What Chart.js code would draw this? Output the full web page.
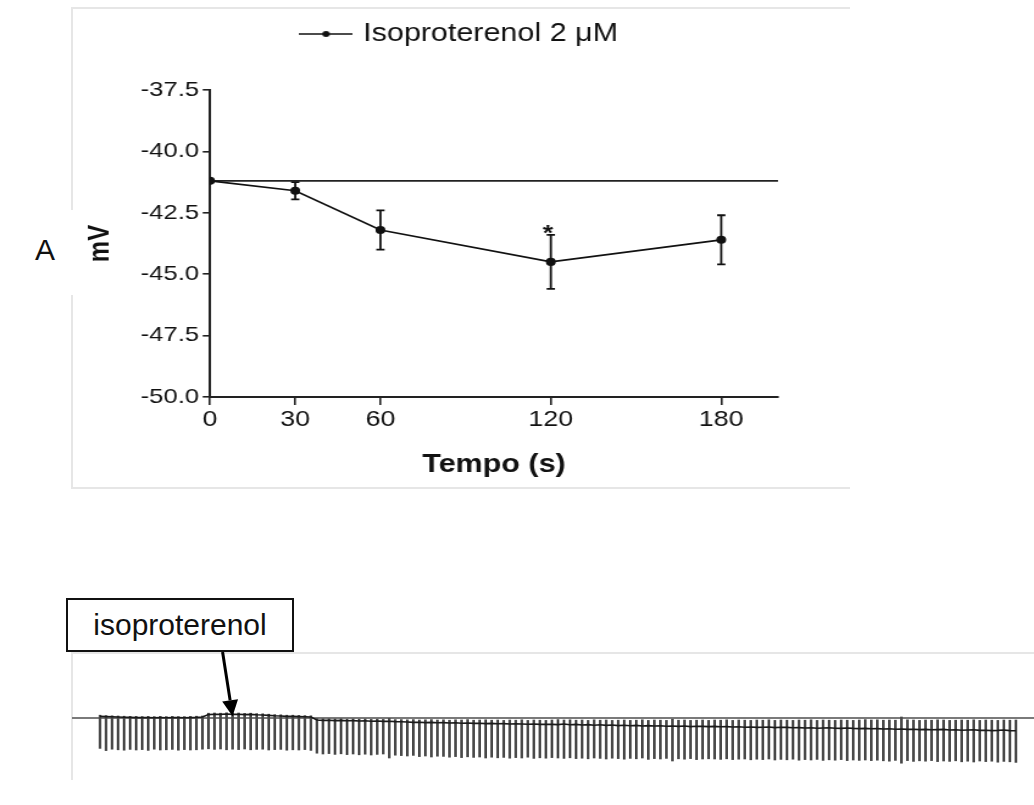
<!DOCTYPE html>
<html><head><meta charset="utf-8">
<script src="https://cdn.jsdelivr.net/npm/chart.js@4.4.1/dist/chart.umd.min.js"></script>
<style>
html,body{margin:0;padding:0;background:#fff;width:1034px;height:805px;overflow:hidden;font-family:"Liberation Sans",Arial,sans-serif;}
.abs{position:absolute;}
#topWrap{left:72px;top:8px;width:638px;height:480px;transform:scaleX(1.2194);transform-origin:0 0;}
#botWrap{left:72px;top:652px;width:962px;height:126px;}
.hl{height:2px;background:#e6e6e6;}
.vl{width:2px;background:#e6e6e6;}
#panelA{left:35px;top:233px;font-size:30px;color:#111;line-height:34px;}
#drugBox{left:66px;top:598px;width:224px;height:50px;border:2px solid #111;background:#fff;font-size:30px;line-height:50px;text-align:center;color:#111;}
</style></head><body>
<div class="abs hl" style="left:72px;top:7px;width:778px"></div>
<div class="abs hl" style="left:72px;top:487px;width:778px"></div>
<div class="abs vl" style="left:71px;top:7px;height:203px"></div>
<div class="abs vl" style="left:71px;top:295px;height:194px"></div>
<div class="abs" id="panelA">A</div>
<div class="abs" id="topWrap"><canvas id="topChart"></canvas></div>
<div class="abs hl" style="left:72px;top:652px;width:962px"></div>
<div class="abs vl" style="left:71px;top:652px;height:128px"></div>
<div class="abs" id="botWrap"><canvas id="traceChart"></canvas></div>
<div class="abs" id="drugBox">isoproterenol</div>
<script>
const FONT = '"Liberation Sans", Arial, sans-serif';

// ---- Panel A: mean membrane potential ----
const timePoints = [0, 30, 60, 120, 180];
const meanMv = [-41.2, -41.6, -43.2, -44.5, -43.6];
const semMv = [0, 0.35, 0.8, 1.1, 1.0];
const significance = ['', '', '', '*', ''];
const baselineMv = -41.2;
const yTicksMv = [-50, -47.5, -45, -42.5, -40, -37.5];
const xRangeS = [0, 200];
const seriesLabel = 'Isoproterenol 2 \u03bcM';

// ---- Trace: one entry per beat ----
const tracePeaks = [
 -31.6,-31.8,-31.9,-32.0,-32.1,-32.2,-32.2,-32.3,-32.2,-32.3,-32.2,-32.3,-32.2,-32.3,-32.3,-32.2,-32.1,-32.0,
 -30.6,-30.5,-30.6,-30.4,-30.6,-30.5,-30.7,-30.6,-30.8,-30.9,-31.1,-31.3,-31.4,-31.6,-31.6,-31.7,-31.8,-31.9,
 -33.3,-33.4,-33.4,-33.5,-33.4,-33.6,-33.5,-33.6,-33.5,-33.7,-33.6,-33.7,-33.2,-33.8,
 -33.8,-33.9,-33.8,-34.0,-33.9,-33.8,-34.0,-33.9,-34.1,-33.9,-34.0,-33.8,-34.1,-34.0,-33.9,-34.1,-34.0,-34.2,-34.0,-34.1,-33.9,-34.2,-34.0,-34.1,-34.2,-34.0,
 -33.8,-34.0,-33.9,-34.1,-34.0,-34.2,-33.9,-34.1,-34.0,-34.2,-34.1,-34.0,-34.2,-34.1,-33.9,-34.2,-34.0,-34.1,-34.2,-33.6,-34.1,-34.0,-34.2,-34.1,-34.0,-34.2,
 -34.0,-34.1,-33.9,-34.2,-34.0,-34.1,-34.2,-34.0,-34.1,-33.9,-34.2,-34.0,-34.1,-34.2,-34.0,-34.1,-33.9,-34.2,-34.0,-34.1,-34.2,-34.0,-34.1,-34.2,-34.0,
 -33.8,-34.0,-33.9,-34.1,-34.0,-34.1,-32.5,-33.9,-34.0,-34.2,-34.0,-34.1,-33.9,-34.0,-34.2,-34.1,-34.0,-34.1,-33.9,-34.2,-34.0,-34.1,-34.2,-34.0,-34.1,-34.0
];
const tracePlateau = [
 -32.2,-32.3,-32.4,-32.5,-32.6,-32.7,-32.8,-32.8,-32.8,-32.9,-32.8,-32.9,-32.8,-32.8,-32.9,-32.8,-32.7,-32.5,
 -31.3,-31.1,-31.2,-31.0,-31.2,-31.1,-31.3,-31.2,-31.4,-31.5,-31.7,-31.9,-32.0,-32.2,-32.2,-32.3,-32.4,-32.5,
 -34.0,-34.2,-34.1,-34.3,-34.2,-34.4,-34.3,-34.5,-34.4,-34.6,-34.5,-34.7,-34.6,-34.8,
 -34.9,-35.0,-35.2,-35.1,-35.3,-35.2,-35.4,-35.3,-35.5,-35.4,-35.6,-35.5,-35.7,-35.6,-35.8,-35.7,-35.9,-35.8,-36.0,-35.9,-36.0,-36.1,-36.0,-36.2,-36.1,-36.2,
 -36.3,-36.0,-36.4,-36.2,-36.5,-36.3,-36.6,-36.4,-36.7,-36.5,-36.8,-36.6,-36.9,-36.7,-37.0,-36.8,-37.0,-36.9,-37.1,-37.0,-37.2,-37.0,-37.3,-37.1,-37.2,-37.3,
 -37.2,-37.4,-37.3,-37.5,-37.4,-37.6,-37.5,-37.7,-37.6,-37.5,-37.8,-37.6,-37.7,-37.9,-37.8,-38.0,-37.9,-38.1,-38.0,-37.9,-38.1,-38.2,-38.0,-38.2,-38.3,
 -38.2,-38.4,-38.3,-38.5,-38.4,-38.6,-38.5,-38.7,-38.6,-38.8,-38.7,-38.9,-38.8,-38.7,-39.0,-38.9,-39.1,-39.0,-38.9,-39.2,-39.1,-39.3,-39.2,-39.0,-39.3,-39.4
];
const traceTroughs = [
 -48.2,-49.3,-48.6,-48.9,-49.1,-48.7,-49.0,-48.8,-49.2,-48.6,-49.0,-48.9,-48.7,-49.1,-48.8,-49.0,-48.9,-48.6,
 -48.4,-48.7,-48.5,-48.9,-48.6,-48.8,-48.5,-48.9,-48.7,-48.6,-49.0,-48.8,-48.7,-49.1,-48.9,-49.0,-48.8,-49.2,
 -50.6,-51.0,-50.8,-51.2,-50.9,-51.3,-51.0,-51.4,-51.1,-51.5,-51.2,-51.0,-53.0,-51.6,
 -51.8,-52.0,-51.7,-52.3,-52.0,-52.5,-52.1,-52.2,-52.6,-52.3,-52.8,-52.4,-52.7,-52.5,-53.0,-52.6,-52.9,-52.7,-53.1,-52.8,-53.0,-52.6,-53.2,-52.9,-53.1,-52.8,
 -53.0,-53.2,-52.9,-53.3,-53.1,-53.4,-53.0,-53.2,-53.5,-53.1,-53.3,-53.6,-53.2,-53.4,-53.0,-53.7,-53.3,-53.5,-53.2,-54.5,-53.4,-53.6,-53.3,-53.8,-53.5,-53.4,
 -53.5,-53.7,-53.4,-53.8,-53.6,-53.5,-53.9,-53.6,-53.8,-53.5,-54.0,-53.7,-53.9,-53.6,-54.1,-53.8,-54.0,-53.7,-54.2,-53.9,-54.1,-53.8,-54.3,-54.0,-54.2,
 -54.0,-54.3,-54.1,-54.4,-54.6,-54.2,-55.6,-54.3,-54.7,-54.4,-54.6,-54.3,-54.8,-54.5,-54.7,-54.4,-54.9,-54.6,-55.0,-54.5,-54.8,-54.6,-55.1,-54.7,-54.9,-55.2
];
const traceBaseline = -33;
const traceXRange = [-4.65, 155];
const traceYRange = [-63, 0];
const drugBeat = 22;

// ---------- Panel A chart ----------
function legendSymbol(){
  const c = document.createElement('canvas'); c.width = 44; c.height = 10;
  const g = c.getContext('2d');
  g.strokeStyle = '#111'; g.lineWidth = 1.6;
  g.beginPath(); g.moveTo(0,5); g.lineTo(44,5); g.stroke();
  g.fillStyle = '#111'; g.beginPath(); g.arc(22,5,3,0,Math.PI*2); g.fill();
  return c;
}
const errorBarPlugin = {
  id:'errorBars',
  afterDatasetsDraw(chart){
    const {ctx, scales:{x, y}} = chart;
    ctx.save();
    ctx.strokeStyle = '#111'; ctx.fillStyle = '#111'; ctx.lineWidth = 1.8;
    timePoints.forEach((t,i)=>{
      const px = x.getPixelForValue(t);
      const top = y.getPixelForValue(meanMv[i] + semMv[i]);
      const bot = y.getPixelForValue(meanMv[i] - semMv[i]);
      if (semMv[i] > 0){
        ctx.beginPath();
        ctx.moveTo(px, top); ctx.lineTo(px, bot);
        ctx.moveTo(px-3.4, top); ctx.lineTo(px+3.4, top);
        ctx.moveTo(px-3.4, bot); ctx.lineTo(px+3.4, bot);
        ctx.stroke();
      }
      if (significance[i]){
        ctx.font = 'bold 22px ' + FONT;
        ctx.textAlign = 'center'; ctx.textBaseline = 'alphabetic';
        ctx.fillText(significance[i], px - 2.5, top + 5);
      }
    });
    ctx.restore();
  }
};
new Chart(document.getElementById('topChart'), {
  type:'line',
  data:{datasets:[
    {label:seriesLabel, data:timePoints.map((t,i)=>({x:t,y:meanMv[i]})), borderColor:'#111', backgroundColor:'#111', borderWidth:1.7, pointRadius:3.2, pointHoverRadius:3.2, tension:0, order:1},
    {label:'baseline', data:[{x:xRangeS[0],y:baselineMv},{x:xRangeS[1],y:baselineMv}], borderColor:'#222', borderWidth:1.6, pointRadius:0, order:2}
  ]},
  options:{
    responsive:true, maintainAspectRatio:false, animation:false, devicePixelRatio:1,
    layout:{padding:{left:0,right:0,top:0,bottom:0}},
    plugins:{
      legend:{display:true, position:'top', weight:3000,
        labels:{usePointStyle:true, pointStyle:legendSymbol(), pointStyleWidth:36, padding:13.5, color:'#111', font:{family:FONT,size:25}, filter:(it)=>it.datasetIndex===0}},
      title:{display:true, text:'', weight:2000, padding:{top:23.5,bottom:0}, font:{size:10,lineHeight:1}},
      tooltip:{enabled:false}
    },
    scales:{
      x:{type:'linear', min:xRangeS[0], max:xRangeS[1],
        afterBuildTicks:s=>{s.ticks=timePoints.map(v=>({value:v}));},
        afterFit:s=>{s.height=91;},
        grid:{drawOnChartArea:false, drawTicks:true, tickLength:8, color:'#222', lineWidth:1.6},
        border:{display:true, color:'#222', width:2},
        ticks:{color:'#111', font:{family:FONT,size:22}, padding:2, maxRotation:0, autoSkip:false},
        title:{display:true, text:'Tempo (s)', color:'#111', font:{family:FONT,size:25,weight:'bold'}, padding:{top:0,bottom:8}}
      },
      y:{min:yTicksMv[0], max:yTicksMv[yTicksMv.length-1],
        afterBuildTicks:s=>{s.ticks=yTicksMv.map(v=>({value:v}));},
        afterFit:s=>{s.width=113.2;},
        grid:{drawOnChartArea:false, drawTicks:true, tickLength:6, color:'#222', lineWidth:1.6},
        border:{display:true, color:'#222', width:2},
        ticks:{color:'#111', font:{family:FONT,size:21}, padding:3, callback:v=>Number(v).toFixed(1)},
        title:{display:true, text:'mV', color:'#111', font:{family:FONT,size:24,weight:'bold'}, padding:{top:9.4,bottom:0}}
      },
      yRightGap:{position:'right', display:true, afterFit:s=>{s.width=59;},
        grid:{display:false, drawTicks:false}, border:{display:false}, ticks:{display:false}}
    }
  },
  plugins:[errorBarPlugin]
});

// ---------- Trace chart ----------
const arrowPlugin = {
  id:'drugArrow',
  afterDatasetsDraw(chart){
    const {ctx, scales:{x, y}} = chart;
    const tipX = x.getPixelForValue(drugBeat);
    const tipY = y.getPixelForValue(tracePeaks[drugBeat]) + 3;
    const sx = tipX - 10, sy = 0;
    const dx = tipX - sx, dy = tipY - sy, len = Math.hypot(dx, dy);
    const ux = dx/len, uy = dy/len, nx = -uy, ny = ux;
    const bx = tipX - ux*16, by = tipY - uy*16;
    ctx.save();
    ctx.strokeStyle = '#000'; ctx.fillStyle = '#000'; ctx.lineWidth = 3;
    ctx.beginPath(); ctx.moveTo(sx, sy); ctx.lineTo(bx, by); ctx.stroke();
    ctx.beginPath(); ctx.moveTo(tipX, tipY); ctx.lineTo(bx + nx*8, by + ny*8); ctx.lineTo(bx - nx*8, by - ny*8); ctx.closePath(); ctx.fill();
    ctx.restore();
  }
};
new Chart(document.getElementById('traceChart'), {
  type:'bar',
  data:{datasets:[
    {type:'line', data:[{x:traceXRange[0],y:traceBaseline},{x:traceXRange[1],y:traceBaseline}], borderColor:'#7a7a7a', borderWidth:2, pointRadius:0, order:3},
    {type:'bar', data:traceTroughs.map((b,i)=>({x:i,y:[tracePeaks[i],b]})), backgroundColor:'#4a4a4a', barThickness:2, borderWidth:0, order:2},
    {type:'line', data:tracePlateau.map((p,i)=>({x:i,y:p})), borderColor:'#1a1a1a', borderWidth:1.6, pointRadius:0, tension:0, order:1}
  ]},
  options:{
    responsive:true, maintainAspectRatio:false, animation:false, devicePixelRatio:1,
    layout:{padding:0},
    plugins:{legend:{display:false}, tooltip:{enabled:false}},
    scales:{
      x:{type:'linear', display:false, min:traceXRange[0], max:traceXRange[1], offset:false},
      y:{display:false, min:traceYRange[0], max:traceYRange[1]}
    }
  },
  plugins:[arrowPlugin]
});
</script>
</body></html>
